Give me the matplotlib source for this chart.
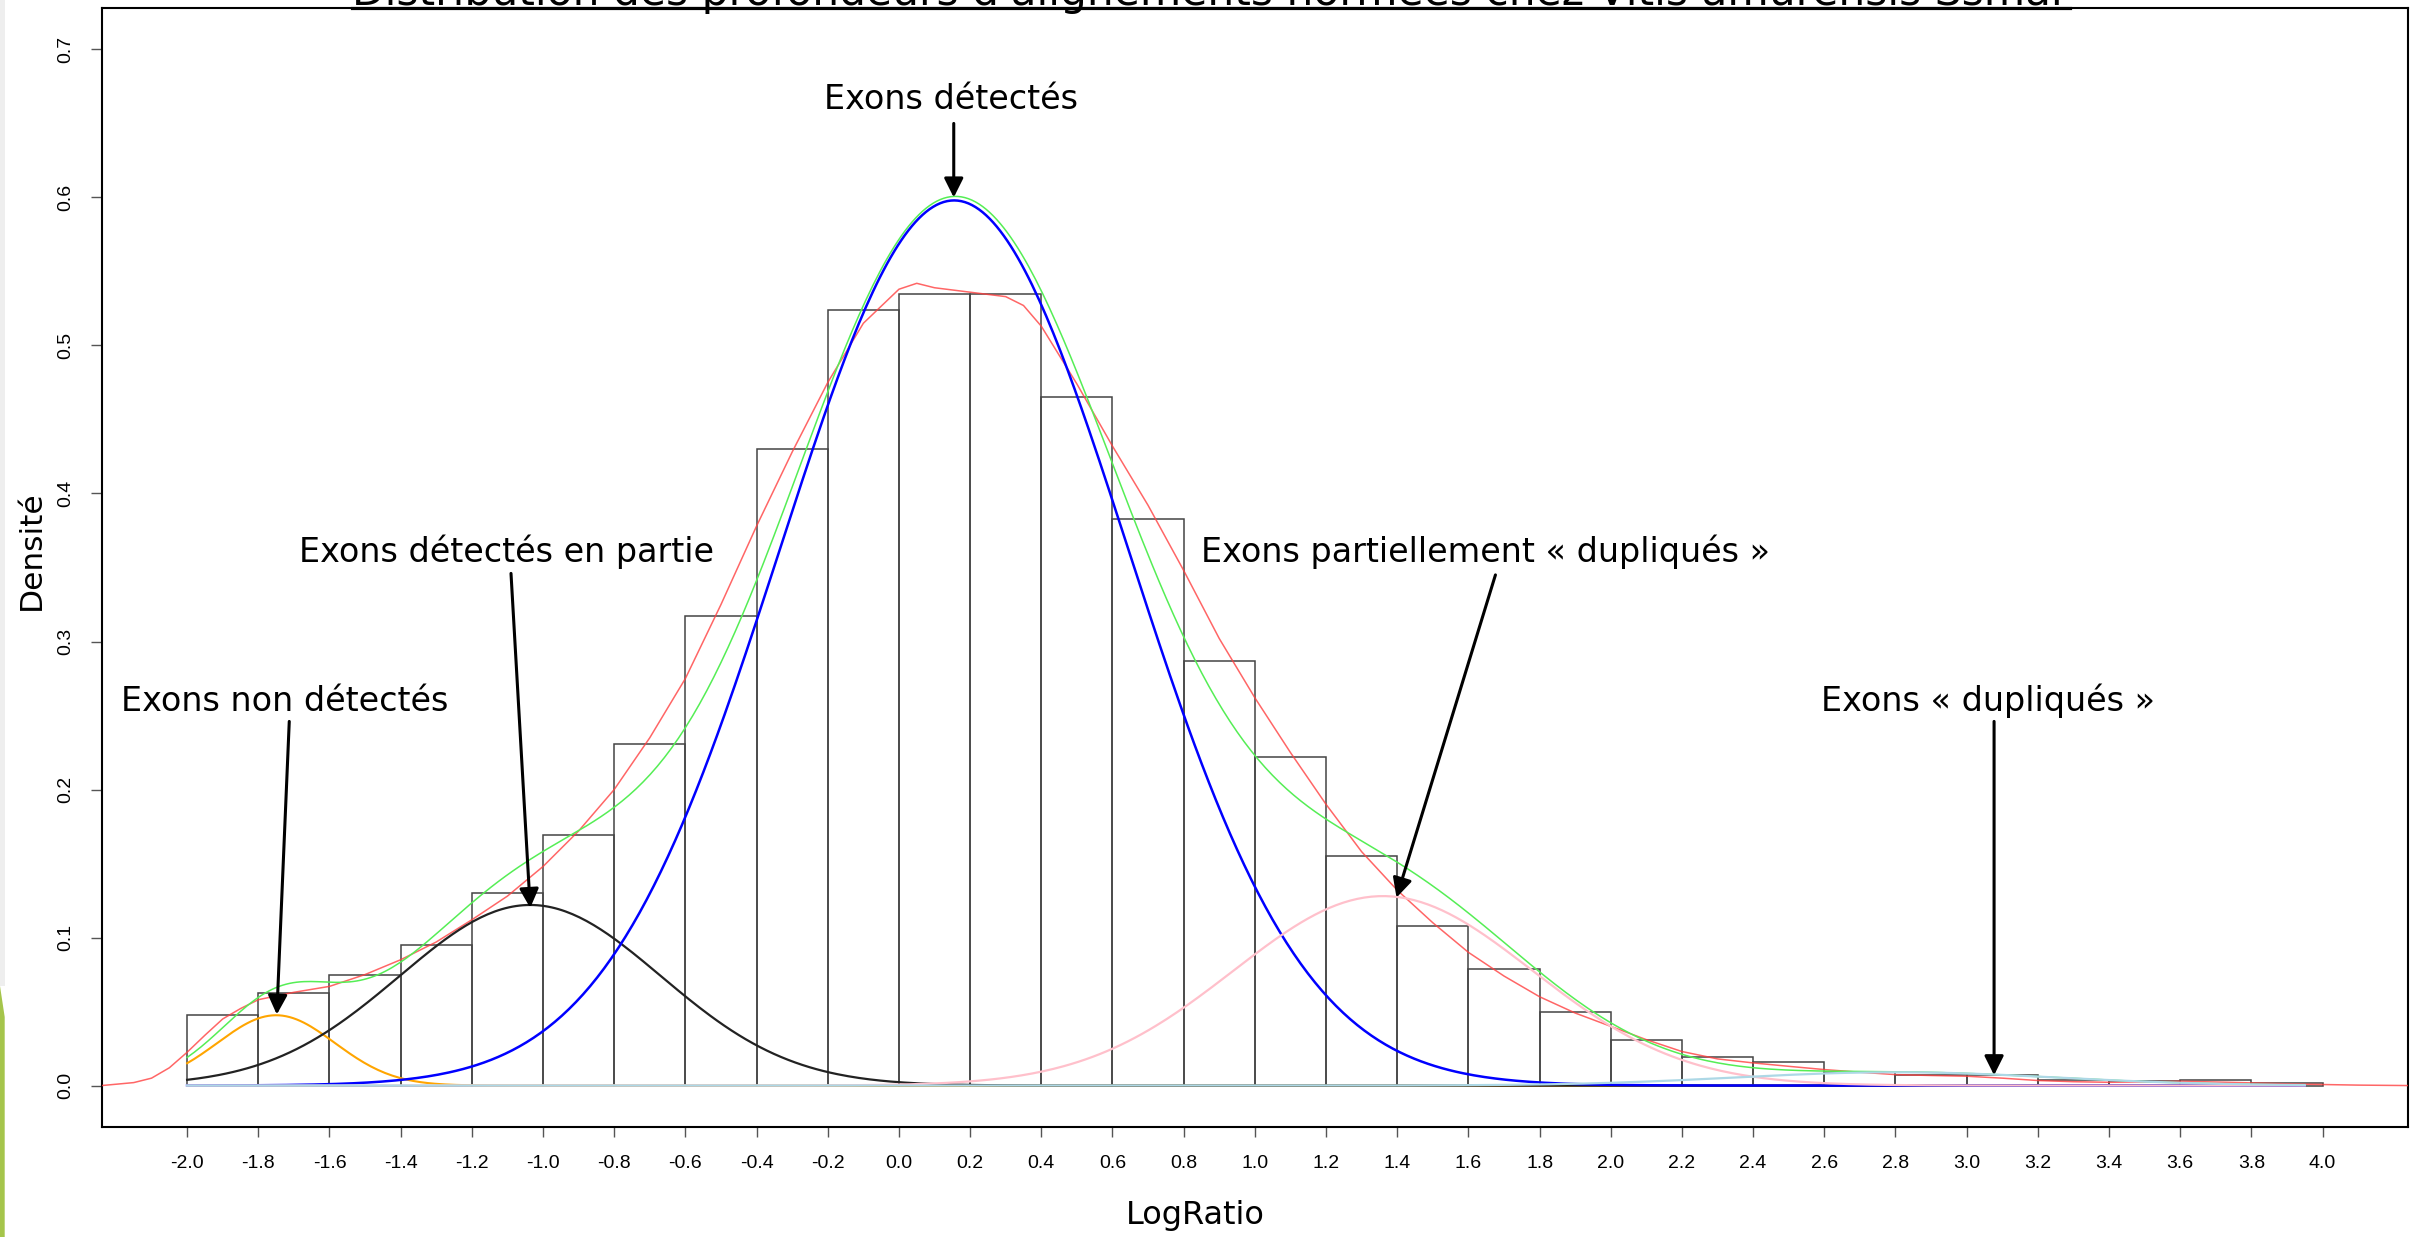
import numpy as np
import matplotlib.pyplot as plt
from matplotlib.patches import Polygon, Rectangle
from matplotlib.lines import Line2D

# histogram (bins of 0.2 from -2.0 to 4.0)
bin_edges = [-2.0, -1.8, -1.6, -1.4, -1.2, -1.0, -0.8, -0.6, -0.4, -0.2, 0.0,
             0.2, 0.4, 0.6, 0.8, 1.0, 1.2, 1.4, 1.6, 1.8, 2.0, 2.2, 2.4, 2.6,
             2.8, 3.0, 3.2, 3.4, 3.6, 3.8]
bin_heights = [0.048, 0.0625, 0.075, 0.095, 0.130, 0.169, 0.231, 0.317, 0.430,
               0.524, 0.535, 0.535, 0.465, 0.383, 0.287, 0.222, 0.155, 0.108,
               0.079, 0.050, 0.031, 0.019, 0.016, 0.009, 0.007, 0.007, 0.004,
               0.003, 0.004, 0.002]

# kernel density (red)
dens_x = [-2.24, -2.15, -2.10, -2.05, -2.00, -1.95, -1.90, -1.85, -1.80, -1.70,
          -1.60, -1.50, -1.40, -1.30, -1.20, -1.10, -1.00, -0.90, -0.80, -0.70,
          -0.60, -0.50, -0.40, -0.30, -0.20, -0.10, 0.00, 0.05, 0.10, 0.20,
          0.30, 0.35, 0.40, 0.50, 0.60, 0.70, 0.80, 0.90, 1.00, 1.10, 1.20,
          1.30, 1.40, 1.50, 1.60, 1.70, 1.80, 1.90, 2.00, 2.10, 2.20, 2.30,
          2.40, 2.50, 2.60, 2.70, 2.80, 2.90, 3.00, 3.10, 3.20, 3.30, 3.40,
          3.50, 3.60, 3.70, 3.80, 3.90, 4.00, 4.10, 4.24]
dens_y = [0.000, 0.002, 0.005, 0.012, 0.0225, 0.034, 0.045, 0.052, 0.058, 0.063,
          0.067, 0.075, 0.085, 0.097, 0.112, 0.128, 0.148, 0.172, 0.200, 0.235,
          0.275, 0.325, 0.378, 0.428, 0.475, 0.515, 0.538, 0.542, 0.539, 0.536,
          0.533, 0.527, 0.513, 0.474, 0.432, 0.392, 0.348, 0.302, 0.262, 0.225,
          0.190, 0.158, 0.132, 0.110, 0.090, 0.074, 0.060, 0.049, 0.040, 0.031,
          0.023, 0.018, 0.0153, 0.013, 0.0108, 0.009, 0.0074, 0.0068, 0.0063,
          0.0050, 0.0034, 0.0026, 0.0022, 0.0025, 0.0029, 0.0024, 0.0018,
          0.0012, 0.0007, 0.0003, 0.0]

# mixture components: peak height, mean, sd
comp_names = ['non detectes', 'en partie', 'detectes', 'part. dupliques', 'dupliques']
comp_peak = [0.0475, 0.122, 0.598, 0.128, 0.009]
comp_mean = [-1.75, -1.036, 0.155, 1.36, 2.80]
comp_sd = [0.165, 0.367, 0.489, 0.42, 0.45]
comp_color = ['#FFA500', '#222222', '#0000FF', '#FFC0CB', '#ADD8E6']
comp_lw = [1.5, 1.6, 1.8, 1.6, 1.6]

# annotations: label, text x, text baseline y, arrow tail, arrow head
ann_labels = ['Exons détectés', 'Exons détectés en partie', 'Exons non détectés',
              'Exons partiellement « dupliqués »', 'Exons « dupliqués »']
ann_text_xy = [(0.146, 0.660), (-1.104, 0.354), (-1.727, 0.253),
               (1.649, 0.354), (3.060, 0.253)]
ann_tail = [(0.154, 0.650), (-1.090, 0.346), (-1.713, 0.246),
            (1.676, 0.345), (3.077, 0.246)]
ann_head = [(0.154, 0.600), (-1.036, 0.120), (-1.748, 0.048),
            (1.398, 0.127), (3.077, 0.007)]

x_ticks = [round(-2.0 + 0.2 * i, 1) for i in range(31)]
y_ticks = [0.0, 0.1, 0.2, 0.3, 0.4, 0.5, 0.6, 0.7]

title = "Distribution des profondeurs d'alignements normées chez Vitis amurensis Ssmar"

W, H = 2423, 1237
fig = plt.figure(figsize=(W / 100, H / 100), dpi=100)
ax = fig.add_axes([101.7 / W, 1 - 1127 / H, (2408 - 101.7) / W, (1127 - 8) / H])

# histogram
ax.bar(bin_edges, bin_heights, width=0.2, align='edge', facecolor='none',
       edgecolor='#444444', linewidth=1.1, zorder=2)

# density estimate
ax.plot(dens_x, dens_y, color='#FF4040', lw=1.1, alpha=0.8, zorder=3)

# components and their sum
xs = np.linspace(-2.0, 3.95, 600)
total = np.zeros_like(xs)
for peak, mu, sd, col, lw in zip(comp_peak, comp_mean, comp_sd, comp_color, comp_lw):
    ys = peak * np.exp(-(xs - mu) ** 2 / (2 * sd ** 2))
    total += ys
    ax.plot(xs, ys, color=col, lw=lw, zorder=4)
ax.plot(xs, total, color='#55EE55', lw=1.1, zorder=3.5)

# labels + arrows
for lab, txy, tail, head in zip(ann_labels, ann_text_xy, ann_tail, ann_head):
    ax.text(txy[0], txy[1], lab, ha='center', va='baseline', fontsize=24,
            family='DejaVu Sans', zorder=6)
    ax.annotate('', xy=head, xytext=tail,
                arrowprops=dict(arrowstyle='-|>', lw=2.2, color='black',
                                mutation_scale=29, shrinkA=0, shrinkB=0),
                zorder=6)

ax.set_xlim(-2.24, 4.24)
ax.set_ylim(-0.028, 0.728)
ax.set_xticks(x_ticks)
ax.set_xticklabels(['%.1f' % t for t in x_ticks], family='Liberation Sans', fontsize=14)
ax.set_yticks(y_ticks)
ax.set_yticklabels(['%.1f' % t for t in y_ticks], family='Liberation Sans',
                   fontsize=14, rotation=90, va='center')
ax.tick_params(axis='x', direction='out', length=7.5, width=1, color='#555555', pad=13)
ax.tick_params(axis='y', direction='out', length=8, width=1, color='#555555', pad=12)
for s in ax.spines.values():
    s.set_linewidth(1.5)

fig.text(31 / W, 1 - 550 / H, 'Densité', rotation=90, ha='center', va='center',
         fontsize=22.5, family='DejaVu Sans')
fig.text(1195 / W, 1 - 1224 / H, 'LogRatio', ha='center', va='baseline',
         fontsize=23, family='DejaVu Sans')

# title, cut by the top edge as in the original slide, with its underline
fig.text(1210 / W, 1 - 5.5 / H, title, ha='center', va='baseline', fontsize=30.5,
         family='DejaVu Sans')
fig.add_artist(Line2D([352 / W, 2070 / W], [1 - 7.5 / H, 1 - 7.5 / H], color='black',
                      lw=2.3, transform=fig.transFigure))

# slide template decorations on the left edge
fig.add_artist(Rectangle((0, 1 - 986 / H), 4.7 / W, 986 / H, transform=fig.transFigure,
                         facecolor='#EEEEEE', edgecolor='none'))
fig.add_artist(Polygon([(0, 1 - 986 / H), (4.7 / W, 1 - 1017 / H), (4.7 / W, 0), (0, 0)],
                       closed=True, transform=fig.transFigure,
                       facecolor='#A5C54B', edgecolor='none'))

fig.savefig('out.png', dpi=100)
